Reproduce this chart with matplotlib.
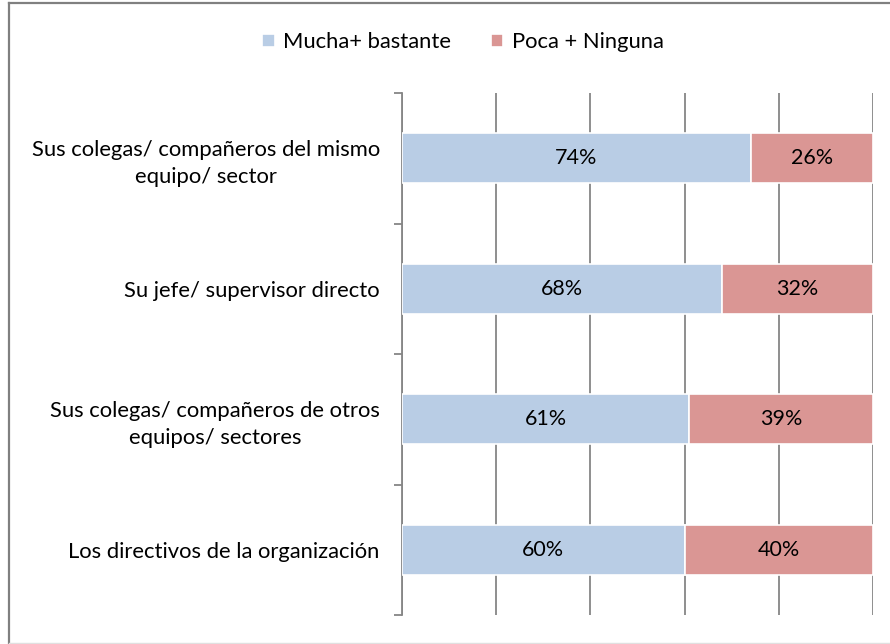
import matplotlib
matplotlib.use("Agg")
import matplotlib.pyplot as plt
from matplotlib.lines import Line2D
import numpy as np

plt.rcParams['font.family'] = ['Lato', 'DejaVu Sans']

categories = ["Sus colegas/ compañeros del mismo\nequipo/ sector",
              "Su jefe/ supervisor directo",
              "Sus colegas/ compañeros de otros\nequipos/ sectores",
              "Los directivos de la organización"]
mucha = [74, 68, 61, 60]
poca = [26, 32, 39, 40]
series_names = ["Mucha+ bastante", "Poca + Ninguna"]
colors = ["#B9CDE5", "#DA9694"]

W, H = 890, 644
fig = plt.figure(figsize=(W/100, H/100), dpi=100)
ax = fig.add_axes([402/W, 29/H, (873-402)/W, (615-93)/H])

y = np.arange(len(categories))
bh = 0.385
b1 = ax.barh(y, mucha, height=bh, color=colors[0], edgecolor='white', linewidth=1.2, label=series_names[0], zorder=3)
b2 = ax.barh(y, poca, left=mucha, height=bh, color=colors[1], edgecolor='white', linewidth=1.2, label=series_names[1], zorder=3)

for rects, vals, lefts in [(b1, mucha, [0]*4), (b2, poca, mucha)]:
    for yi, v, l in zip(y, vals, lefts):
        ax.text(l + v/2, yi, f"{v}%", ha='center', va='center', fontsize=15.5, color='black', zorder=4)

ax.set_xlim(0, 100)
ax.set_ylim(3.5, -0.5)
ax.set_xticks([0, 20, 40, 60, 80, 100])
ax.tick_params(axis='x', length=0, labelbottom=False)
ax.xaxis.grid(True, color='#868686', linewidth=1.3, zorder=0)
ax.set_axisbelow(True)

ax.set_yticks([-0.5, 0.5, 1.5, 2.5, 3.5])
ax.set_yticklabels([])
ax.tick_params(axis='y', which='major', length=5.5, width=1.3, color='#868686', direction='out')
ax.set_yticks(y, minor=True)
ax.set_yticklabels(categories, minor=True, fontsize=15.8, multialignment='center', linespacing=1.4)
ax.tick_params(axis='y', which='minor', length=0, pad=16)

for s in ['top', 'right', 'bottom']:
    ax.spines[s].set_visible(False)
ax.spines['left'].set_color('#868686')
ax.spines['left'].set_linewidth(1.3)

leg = fig.legend(handles=[b1, b2], labels=series_names, loc='center', bbox_to_anchor=(463/W, 1-42/H),
                 ncol=2, frameon=False, fontsize=15.8, handlelength=0.55, handleheight=0.55,
                 handletextpad=0.4, columnspacing=1.8)

# outer frame
fig.add_artist(Line2D([9/W, 9/W], [0, 1-2.5/H], transform=fig.transFigure, color='#808080', linewidth=1.6))
fig.add_artist(Line2D([9/W, 1], [1-2.5/H, 1-2.5/H], transform=fig.transFigure, color='#808080', linewidth=1.6))
fig.add_artist(Line2D([9/W, 1], [0.8/H, 0.8/H], transform=fig.transFigure, color='#E0E0E0', linewidth=1.0))

fig.savefig("out.png", dpi=100)
